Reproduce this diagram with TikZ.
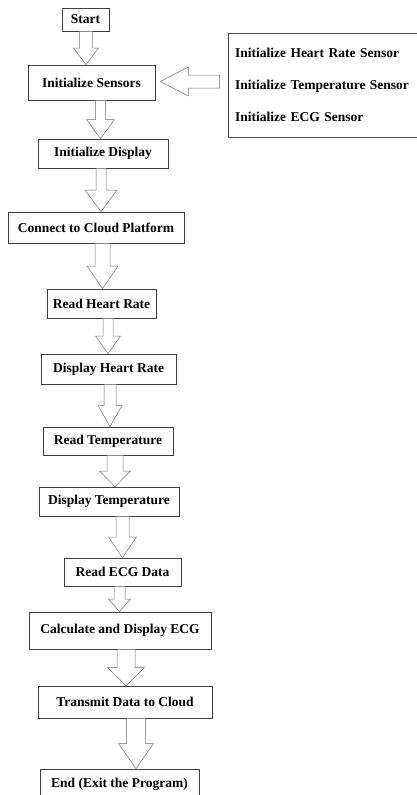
\documentclass[tikz,border=0pt]{standalone}
\usepackage{fontspec}
\setmainfont{Liberation Serif}
\usepackage{tikz}
\usetikzlibrary{calc,shadows}

\tikzset{
  stepbox/.style={rectangle, draw=black!75, line width=0.7pt, fill=white, align=center,
    inner sep=2pt, font=\fontsize{13.5pt}{16pt}\selectfont\bfseries,
    drop shadow={shadow xshift=0.7pt, shadow yshift=-0.7pt, fill=black!70, opacity=0.8}},
  sidebox/.style={rectangle, draw=black!70, line width=0.6pt, fill=white, align=left,
    inner xsep=7pt, font=\fontsize{13.5pt}{32pt}\selectfont\bfseries},
  blockarrow/.style={draw=black!55, line width=0.5pt, fill=white, line join=miter}
}

% down block arrow: upper node, lower node, centre x, shaft half width, head half width
\newcommand{\blockdown}[5]{%
  \draw[blockarrow] let \p1=(#1.south), \p2=(#2.north), \p3=($(\p1)!.5!(\p2)$) in
    (#3pt-#4pt,\y1) -- (#3pt+#4pt,\y1) -- (#3pt+#4pt,\y3) -- (#3pt+#5pt,\y3)
    -- (#3pt,\y2) -- (#3pt-#5pt,\y3) -- (#3pt-#4pt,\y3) -- cycle;}

\begin{document}
\begin{tikzpicture}[x=1pt, y=1pt]
\clip (0,0) rectangle (417,-795);
\fill[white] (0,0) rectangle (417,-795);

\node[stepbox, minimum width=47pt, minimum height=23pt] (start) at (85.5,-19.5) {Start};
\node[stepbox, minimum width=127pt, minimum height=35pt] (sensors) at (91.5,-82.5) {Initialize Sensors};
\node[sidebox, text width=180pt, minimum height=104pt] (side) at (325,-85) {Initialize Heart Rate Sensor\\Initialize Temperature Sensor\\Initialize ECG Sensor};
\node[stepbox, minimum width=130pt, minimum height=29pt] (display) at (103,-153.5) {Initialize Display};
\node[stepbox, minimum width=176pt, minimum height=31pt] (cloud) at (96,-227.5) {Connect to Cloud Platform};
\node[stepbox, minimum width=109pt, minimum height=29pt] (readhr) at (101.5,-303.5) {Read Heart Rate};
\node[stepbox, minimum width=135pt, minimum height=30pt] (disphr) at (108.5,-369) {Display Heart Rate};
\node[stepbox, minimum width=130pt, minimum height=28pt] (readtemp) at (108,-441) {Read Temperature};
\node[stepbox, minimum width=140pt, minimum height=29pt] (disptemp) at (109,-501.5) {Display Temperature};
\node[stepbox, minimum width=117pt, minimum height=28pt] (readecg) at (122.5,-572) {Read ECG Data};
\node[stepbox, minimum width=182pt, minimum height=37pt] (calcecg) at (120,-630.5) {Calculate and Display ECG};
\node[stepbox, minimum width=174pt, minimum height=32pt] (transmit) at (125,-702) {Transmit Data to Cloud};
\node[stepbox, minimum width=159pt, minimum height=36pt, text depth=0pt] (finish) at (119.5,-787) {\raisebox{8pt}{End (Exit the Program)}};

% sensor list feeds the sensor step
\draw[blockarrow] let \p1=(side.west), \p2=(sensors.east) in
  (\x1-8pt,-75pt) -- (\x2+33pt,-75pt) -- (\x2+33pt,-67pt) -- (\x2+5pt,-81.5pt)
  -- (\x2+33pt,-96pt) -- (\x2+33pt,-88pt) -- (\x1-8pt,-88pt) -- cycle;

\blockdown{start}{sensors}{86}{6.5}{12.5}
\blockdown{sensors}{display}{100.5}{5}{14}
\blockdown{display}{cloud}{101}{5}{16}
\blockdown{cloud}{readhr}{102.5}{7.5}{15.5}
\blockdown{readhr}{disphr}{108}{5}{12.5}
\blockdown{disphr}{readtemp}{110}{6}{12}
\blockdown{readtemp}{disptemp}{115}{8}{15.5}
\blockdown{disptemp}{readecg}{122.5}{6.5}{14}
\blockdown{readecg}{calcecg}{119.5}{5.5}{11}
\blockdown{calcecg}{transmit}{126}{9}{18.5}
\blockdown{transmit}{finish}{136}{9.5}{17.5}
\end{tikzpicture}
\end{document}
